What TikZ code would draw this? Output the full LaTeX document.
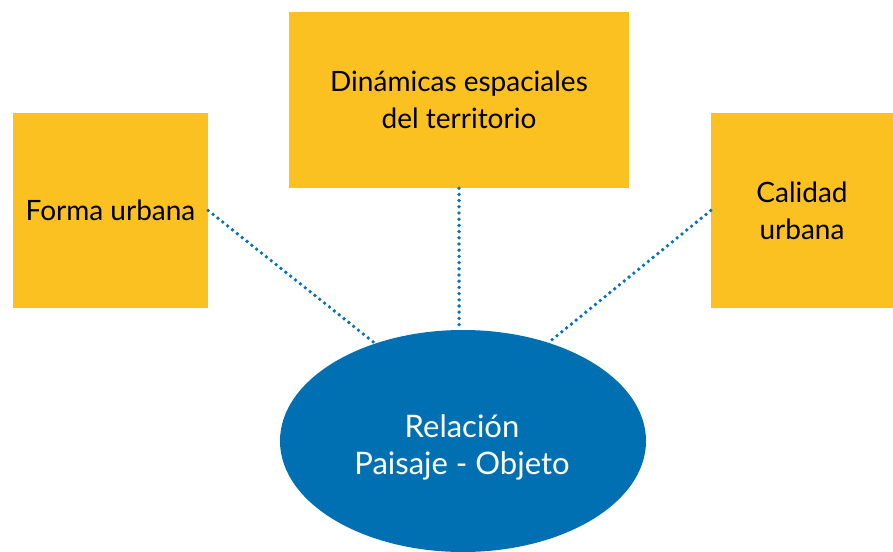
\documentclass[tikz,border=0pt]{standalone}
\usepackage{fontspec}
\setmainfont{Lato}
\usetikzlibrary{shapes.geometric}
\definecolor{boxyellow}{HTML}{FAC121}
\definecolor{ellblue}{HTML}{0070B3}
\definecolor{dotblue}{HTML}{0B72B8}
\tikzset{
  ybox/.style={fill=boxyellow, draw=none, inner sep=0pt, align=center,
    font=\fontsize{28}{37}\selectfont, text=black},
  bell/.style={ellipse, fill=ellblue, draw=none, inner sep=0pt, align=center,
    font=\fontsize{31}{37}\selectfont, text=white},
  dotline/.style={dotblue, line width=3.8pt, line cap=round, dash pattern=on 0pt off 6.2pt}
}
\begin{document}
\begin{tikzpicture}[x=1pt,y=-1pt]
\useasboundingbox (0,0) rectangle (893,551);
\node[ybox, minimum width=195pt, minimum height=195pt] (forma) at (110.5,210.5) {Forma urbana};
\node[ybox, minimum width=340pt, minimum height=176pt] (dina) at (459,100) {Dinámicas espaciales\\del territorio};
\node[ybox, minimum width=182pt, minimum height=195pt] (cal) at (802,210.5) {Calidad\\urbana};
\node[bell, minimum width=366pt, minimum height=222pt] (rel) at (463,441) {};
\node[font=\fontsize{31}{37}\selectfont, text=white, align=center, inner sep=0pt] (reltext) at (462,447) {Relación\\Paisaje - Objeto};
\draw[dotline] (forma.east) -- (rel.132);
\draw[dotline] (dina.south) -- (rel.92);
\draw[dotline] (cal.west) -- (rel.49);
\end{tikzpicture}
\end{document}
